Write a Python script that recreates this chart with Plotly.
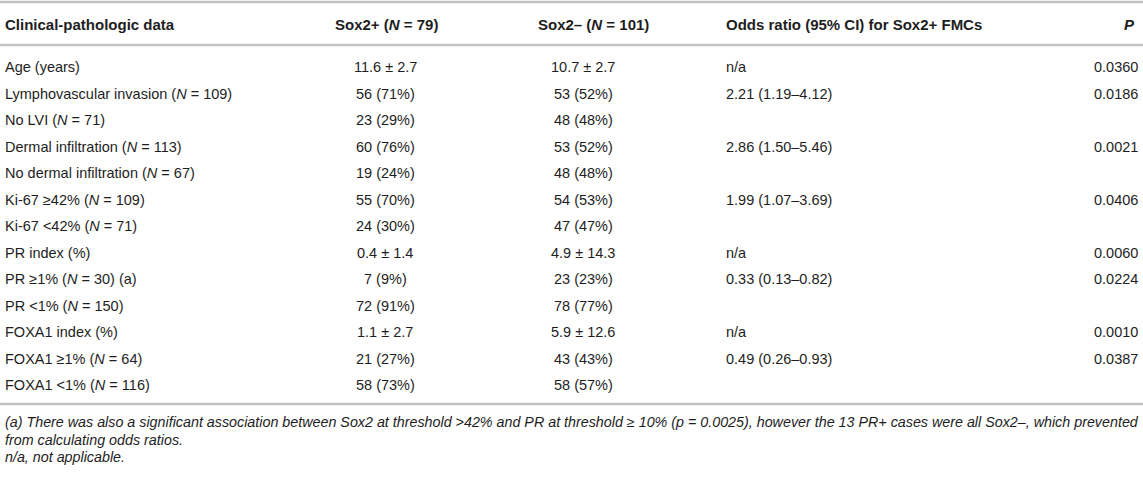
import plotly.graph_objects as go

W, H = 1143, 484

headers = ["<b>Clinical-pathologic data</b>", "<b>Sox2+ (<i>N</i> = 79)</b>",
           "<b>Sox2– (<i>N</i> = 101)</b>", "<b>Odds ratio (95% CI) for Sox2+ FMCs</b>", "<b><i>P</i></b>"]

labels = ["Age (years)", "Lymphovascular invasion (<i>N</i> = 109)", "No LVI (<i>N</i> = 71)",
          "Dermal infiltration (<i>N</i> = 113)", "No dermal infiltration (<i>N</i> = 67)",
          "Ki-67 ≥42% (<i>N</i> = 109)", "Ki-67 <42% (<i>N</i> = 71)", "PR index (%)",
          "PR ≥1% (<i>N</i> = 30) (a)", "PR <1% (<i>N</i> = 150)", "FOXA1 index (%)",
          "FOXA1 ≥1% (<i>N</i> = 64)", "FOXA1 <1% (<i>N</i> = 116)"]
sox2_pos = ["11.6 ± 2.7", "56 (71%)", "23 (29%)", "60 (76%)", "19 (24%)", "55 (70%)", "24 (30%)",
            "0.4 ± 1.4", "7 (9%)", "72 (91%)", "1.1 ± 2.7", "21 (27%)", "58 (73%)"]
sox2_neg = ["10.7 ± 2.7", "53 (52%)", "48 (48%)", "53 (52%)", "48 (48%)", "54 (53%)", "47 (47%)",
            "4.9 ± 14.3", "23 (23%)", "78 (77%)", "5.9 ± 12.6", "43 (43%)", "58 (57%)"]
odds = ["n/a", "2.21 (1.19–4.12)", "", "2.86 (1.50–5.46)", "", "1.99 (1.07–3.69)", "",
        "n/a", "0.33 (0.13–0.82)", "", "n/a", "0.49 (0.26–0.93)", ""]
pvals = ["0.0360", "0.0186", "", "0.0021", "", "0.0406", "", "0.0060", "0.0224", "", "0.0010", "0.0387", ""]

footnotes = ["(a) There was also a significant association between Sox2 at threshold >42% and PR at threshold ≥ 10% (p = 0.0025), however the 13 PR+ cases were all Sox2–, which prevented",
             "from calculating odds ratios.",
             "n/a, not applicable."]

# layout (pixels)
col_x = [3, 385, 583, 724, 1140]
col_anchor = ["left", "center", "center", "left", "right"]
head_x = [3, 386, 593, 724, 1137]
head_anchor = ["left", "center", "center", "left", "right"]
header_y = 24
row_y0, row_dy = 67, 26.5
rules_y = [2, 45, 404]
foot_y0, foot_dy = 422, 17.5

FONT = "Liberation Sans, Arial, sans-serif"
TXT = "#1e1e1e"

fig = go.Figure()
fig.add_trace(go.Scatter(x=[0, W], y=[0, H], mode="markers", marker=dict(opacity=0), hoverinfo="skip", showlegend=False))

ann = []
for j, h in enumerate(headers):
    ann.append(dict(x=head_x[j], y=header_y, text=h, xanchor=head_anchor[j], yanchor="middle",
                    showarrow=False, font=dict(family=FONT, size=15, color=TXT)))
columns = [labels, sox2_pos, sox2_neg, odds, pvals]
for j, col in enumerate(columns):
    for i, t in enumerate(col):
        if not t:
            continue
        ann.append(dict(x=col_x[j], y=row_y0 + i * row_dy, text=t, xanchor=col_anchor[j], yanchor="middle",
                        showarrow=False, font=dict(family=FONT, size=14.5, color=TXT)))
for k, t in enumerate(footnotes):
    ann.append(dict(x=col_x[0], y=foot_y0 + k * foot_dy, text="<i>" + t + "</i>", xanchor="left", yanchor="middle",
                    showarrow=False, font=dict(family=FONT, size=14.3, color=TXT)))

shapes = [dict(type="line", x0=0, x1=W, y0=y, y1=y, xref="x", yref="y",
               line=dict(color="#c2c2c2", width=2.5)) for y in rules_y]

fig.update_layout(width=W, height=H, margin=dict(l=0, r=0, t=0, b=0),
                  paper_bgcolor="white", plot_bgcolor="white",
                  xaxis=dict(range=[0, W], visible=False, fixedrange=True),
                  yaxis=dict(range=[H, 0], visible=False, fixedrange=True),
                  annotations=ann, shapes=shapes, showlegend=False)

fig.write_html("out.html", config={"displayModeBar": False},
               post_script="document.body.style.margin='0';document.body.style.overflow='hidden';")
